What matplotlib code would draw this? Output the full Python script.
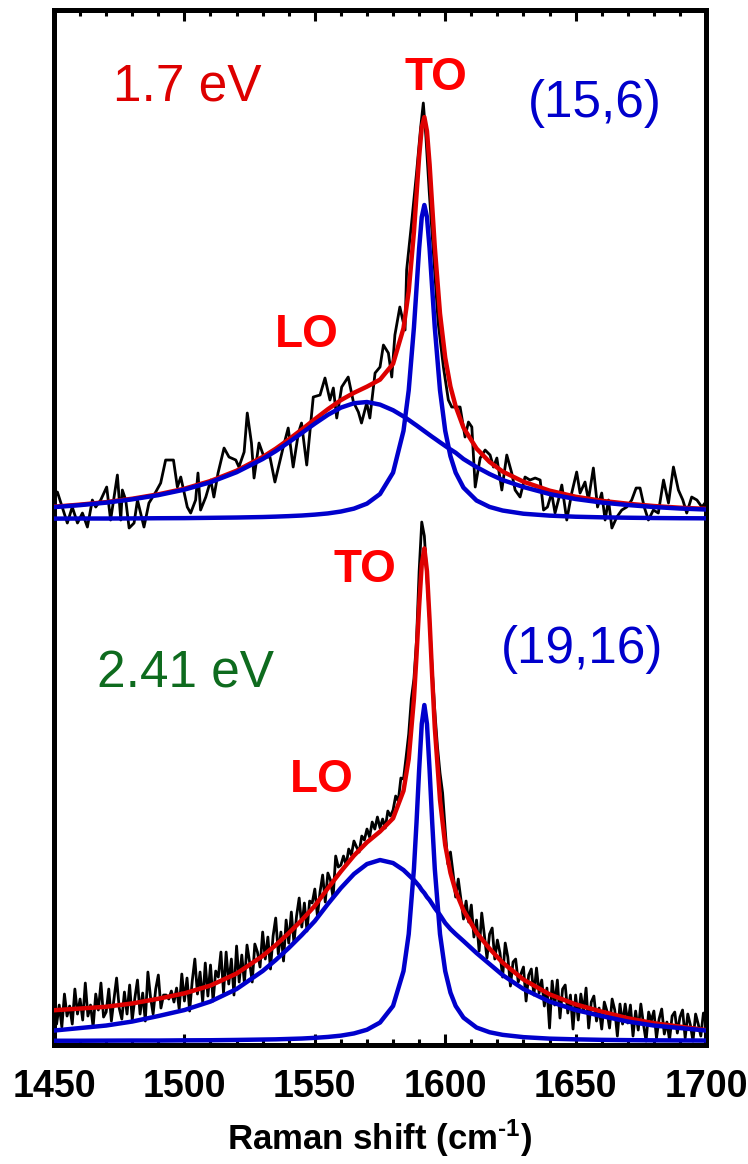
import matplotlib
matplotlib.use('Agg')
import matplotlib.pyplot as plt
from matplotlib.ticker import MultipleLocator

plt.rcParams['mathtext.fontset'] = 'custom'
plt.rcParams['mathtext.rm'] = 'Liberation Sans:bold'
plt.rcParams['mathtext.default'] = 'rm'

# Raman shift grid of the fitted curves (cm-1)
fit_x = [1450, 1460, 1470, 1480, 1490, 1500, 1510, 1520, 1530, 1535, 1540,
         1545, 1550, 1555, 1560, 1565, 1570, 1575, 1580, 1584, 1586, 1588,
         1589, 1590, 1591, 1592, 1593, 1594, 1595, 1596, 1598, 1600, 1602,
         1604, 1607, 1612, 1617, 1622, 1630, 1640, 1650, 1660, 1670, 1680,
         1690, 1700]

# 1.7 eV, (15,6): fit components and total fit
top_lo = [11.9, 13.9, 16.4, 19.7, 23.9, 29.4, 36.8, 46.8, 60.0, 67.9, 76.7,
          86.0, 95.4, 104.2, 111.4, 115.8, 117.0, 114.4, 108.8, 102.6, 99.1, 95.4,
          93.6, 91.7, 89.8, 87.9, 86.0, 84.1, 82.2, 80.4, 76.7, 73.1, 69.6,
          66.3, 60.0, 52.0, 45.0, 39.0, 32.0, 25.0, 20.0, 16.5, 14.0, 12.0,
          10.5, 9.5]
top_to = [0.4, 0.5, 0.5, 0.6, 0.8, 0.9, 1.2, 1.5, 2.0, 2.4, 2.9,
          3.5, 4.4, 5.6, 7.5, 10.4, 15.4, 25.0, 46.4, 88.2, 128.7, 191.5,
          230.9, 270.7, 301.9, 314.0, 301.9, 270.7, 230.9, 191.5, 128.7, 88.2, 62.8,
          46.4, 31.4, 18.5, 12.1, 8.5, 5.3, 3.4, 2.3, 1.7, 1.3, 1.0,
          0.8, 0.7]
top_fit = [12.3, 14.4, 16.9, 20.3, 24.7, 30.3, 38.0, 48.3, 62.0, 70.3, 79.6,
           89.5, 99.8, 109.8, 118.9, 126.2, 132.4, 139.4, 155.2, 190.8, 227.8, 286.9,
           324.5, 362.4, 391.7, 401.9, 387.9, 354.8, 313.1, 271.9, 205.4, 161.3, 132.4,
           112.7, 91.4, 70.5, 57.1, 47.5, 37.3, 28.4, 22.3, 18.2, 15.3, 13.0,
           11.3, 10.2]

# 1.7 eV measured spectrum
top_x = [1450.0, 1451.3, 1455.1, 1457.0, 1459.0, 1460.9, 1462.8, 1464.7, 1466.0, 1467.9,
         1470.2, 1471.7, 1474.3, 1475.6, 1476.2, 1477.5, 1478.8, 1480.7, 1482.0, 1484.5,
         1486.4, 1489.0, 1490.9, 1492.8, 1495.8, 1497.3, 1498.6, 1501.1, 1502.4, 1504.3,
         1505.2, 1506.2, 1508.2, 1510.1, 1511.3, 1512.9, 1515.2, 1517.1, 1519.7, 1520.9,
         1522.9, 1524.1, 1525.7, 1526.7, 1528.6, 1530.5, 1532.8, 1534.7, 1537.9, 1539.8,
         1541.7, 1543.7, 1544.9, 1546.9, 1549.4, 1552.0, 1553.9, 1555.8, 1557.1, 1558.4,
         1560.3, 1562.8, 1564.8, 1566.7, 1567.9, 1569.9, 1571.1, 1573.1, 1575.0, 1576.3,
         1578.2, 1579.5, 1580.7, 1582.6, 1584.6, 1585.2, 1587.1, 1589.0, 1590.6, 1591.6,
         1592.6, 1593.9, 1595.4, 1597.3, 1599.3, 1601.2, 1602.5, 1605.7, 1607.6, 1608.9,
         1610.2, 1611.5, 1613.4, 1615.3, 1617.2, 1618.5, 1619.8, 1621.7, 1623.6, 1625.5,
         1626.8, 1628.7, 1630.6, 1632.5, 1634.5, 1636.4, 1637.7, 1639.2, 1640.8, 1642.1,
         1643.4, 1644.7, 1646.6, 1648.5, 1650.4, 1651.7, 1653.6, 1654.9, 1656.8, 1658.4,
         1660.0, 1661.3, 1662.6, 1663.9, 1665.8, 1667.7, 1669.6, 1671.5, 1673.2, 1674.7,
         1676.3, 1677.9, 1679.8, 1681.7, 1683.7, 1685.6, 1687.5, 1689.4, 1691.1, 1692.6,
         1694.5, 1696.5, 1698.4, 1699.6]
top_y = [20, 27, -4, 12, -4, 6, -8, 19, 12, 19,
         32, -1, 44, -1, 29, 19, -9, -4, 19, -8,
         16, 27, 36, 59, 59, 32, 42, 12, 6, 19,
         46, 9, 22, 39, 22, 46, 71, 62, 59, 52,
         67, 106, 76, 41, 76, 62, 62, 37, 72, 91,
         52, 86, 96, 54, 122, 124, 141, 119, 131, 101,
         132, 142, 117, 107, 96, 116, 101, 146, 152, 174,
         166, 142, 184, 212, 189, 249, 296, 346, 392, 416,
         382, 326, 269, 196, 152, 119, 112, 112, 82, 97,
         92, 32, 61, 69, 64, 52, 61, 29, 64, 46,
         29, 22, 42, 39, 41, 39, 9, 12, 26, 6,
         19, 34, -1, 26, 47, 26, 37, 19, 51, 12,
         26, -1, 19, -9, 2, 9, 12, 19, 31, 31,
         12, -1, 9, 6, 39, 16, 52, 29, 19, 6,
         22, 19, 12, 16]

# 2.41 eV, (19,16): fit components and total fit
bot_lo = [10.5, 13, 15.5, 19.5, 25, 31, 39.5, 52, 70, 81, 93,
          106, 120, 137, 153, 167, 177, 181, 178, 171, 166, 161,
          158, 155, 151, 148, 144, 141, 137, 133, 126, 118, 112,
          107, 100, 88, 77, 66, 52, 39.5, 31, 25, 19.5, 15.5,
          13, 10.5]
bot_to = [0.3, 0.3, 0.4, 0.5, 0.5, 0.7, 0.8, 1.1, 1.5, 1.7, 2.1,
          2.5, 3.2, 4.1, 5.4, 7.6, 11.3, 18.5, 35.1, 69.9, 106.9, 172.1,
          218.9, 271.4, 317.1, 336, 317.1, 271.4, 218.9, 172.1, 106.9, 69.9, 48.4,
          35.1, 23.4, 13.5, 8.8, 6.2, 3.9, 2.4, 1.7, 1.2, 0.9, 0.7,
          0.6, 0.5]
bot_fit = [30.8, 32.5, 34.3, 37.6, 42.3, 47.7, 55.5, 67.5, 85.1, 95.9, 107.9,
           120.9, 135.2, 152.7, 169.6, 185.4, 198.7, 209.5, 222.7, 250.2, 282.0, 342.1,
           385.8, 435.2, 476.8, 492.6, 469.7, 420.9, 364.3, 313.4, 241.1, 195.9, 168.2,
           149.8, 130.8, 108.5, 92.4, 78.4, 61.5, 46.7, 36.7, 29.4, 22.8, 17.8,
           14.4, 11.0]

# 2.41 eV measured spectrum, 1 cm-1 steps
bot_x = list(range(1450, 1701))
bot_y = [40, 17, 36, 14, 47, 25, 35, 17, 52, 27,
         42, 21, 58, 25, 36, 14, 47, 31, 58, 24,
         29, 52, 20, 42, 63, 33, 22, 49, 27, 56,
         21, 43, 61, 27, 48, 20, 69, 44, 27, 52,
         66, 33, 46, 46, 42, 50, 39, 53, 32, 67,
         40, 63, 30, 60, 82, 47, 69, 39, 78, 45,
         76, 40, 70, 64, 89, 48, 89, 57, 82, 46,
         95, 59, 86, 58, 96, 79, 59, 97, 89, 74,
         109, 82, 104, 72, 105, 123, 87, 109, 80, 121,
         98, 129, 98, 125, 143, 114, 138, 110, 140, 138,
         152, 125, 149, 166, 139, 168, 161, 143, 185, 174,
         176, 185, 176, 192, 186, 200, 194, 189, 205, 201,
         212, 204, 219, 212, 224, 213, 222, 213, 230, 225,
         231, 245, 240, 263, 262, 284, 307, 342, 362, 401,
         470, 519, 505, 462, 420, 372, 330, 295, 268, 248,
         211, 177, 189, 168, 144, 162, 142, 122, 140, 119,
         136, 104, 121, 90, 128, 106, 83, 107, 113, 82,
         101, 88, 64, 98, 84, 55, 79, 82, 59, 67,
         74, 40, 66, 72, 46, 73, 48, 61, 35, 53,
         13, 60, 36, 61, 23, 52, 56, 28, 46, 12,
         46, 21, 47, 29, 53, 13, 39, 45, 20, 33,
         12, 39, 30, 13, 42, 31, 5, 37, 17, 37,
         18, 36, 5, 30, 11, 37, 17, 0, 29, 20,
         30, 3, 22, 32, 7, 19, 1, 25, 29, 8,
         24, 31, 3, 27, 16, 0, 27, 17, 5, 28, 20]

top_off = 526   # vertical offset of the 1.7 eV trace
bot_off = 4

fig = plt.figure(figsize=(7.48, 11.64), dpi=100)
ax = fig.add_axes([0.0722, 0.1022, 0.8717, 0.8892])

fit_red = '#DD0000'
fit_blue = '#0000CC'

for xs, ys, off in [(top_x, top_y, top_off), (bot_x, bot_y, bot_off)]:
    ax.plot(xs, [v + off for v in ys], color='black', lw=2.0, zorder=2)
for fit, off in [(top_fit, top_off), (bot_fit, bot_off)]:
    ax.plot(fit_x, [v + off for v in fit], color=fit_red, lw=3.2, zorder=3)
for comps, off in [((top_lo, top_to), top_off), ((bot_lo, bot_to), bot_off)]:
    for c in comps:
        ax.plot(fit_x, [v + off for v in c], color=fit_blue, lw=3.2, zorder=4)

ax.set_xlim(1450, 1700)
ax.set_ylim(0, 1035)
ax.set_yticks([])
ax.xaxis.set_major_locator(MultipleLocator(50))
ax.xaxis.set_minor_locator(MultipleLocator(10))
ax.tick_params(axis='x', which='both', direction='in', top=True, bottom=True,
               width=2.2, pad=17)
ax.tick_params(axis='x', which='major', length=8)
ax.tick_params(axis='x', which='minor', length=4)
for s in ax.spines.values():
    s.set_linewidth(3.6)

tick_font = ['Liberation Sans', 'DejaVu Sans']
for lab in ax.get_xticklabels():
    lab.set_family(tick_font)
    lab.set_fontweight('bold')
    lab.set_fontsize(27)

fig.text(0.508, 0.012, r'Raman shift (cm$^{\text{-1}}$)', ha='center', va='baseline',
         family=tick_font, fontweight='bold', fontsize=25)

lab_font = ['Liberation Sans', 'DejaVu Sans']
ax.text(1472.6, 945, '1.7 eV', color='#DD0000', fontsize=37, family=lab_font,
        ha='left', va='baseline')
ax.text(1596.5, 955, 'TO', color='#FF0000', fontsize=33, fontweight='bold',
        family=lab_font, ha='center', va='baseline')
ax.text(1657.4, 928, '(15,6)', color='#0000CC', fontsize=37, family=lab_font,
        ha='center', va='baseline')
ax.text(1547.0, 698, 'LO', color='#FF0000', fontsize=33, fontweight='bold',
        family=lab_font, ha='center', va='baseline')

ax.text(1569.2, 463, 'TO', color='#FF0000', fontsize=33, fontweight='bold',
        family=lab_font, ha='center', va='baseline')
ax.text(1466.5, 358, '2.41 eV', color='#0E6B1E', fontsize=37, family=lab_font,
        ha='left', va='baseline')
ax.text(1652.5, 382, '(19,16)', color='#0000CC', fontsize=37, family=lab_font,
        ha='center', va='baseline')
ax.text(1552.8, 253, 'LO', color='#FF0000', fontsize=33, fontweight='bold',
        family=lab_font, ha='center', va='baseline')

fig.savefig('out.png', dpi=100)
